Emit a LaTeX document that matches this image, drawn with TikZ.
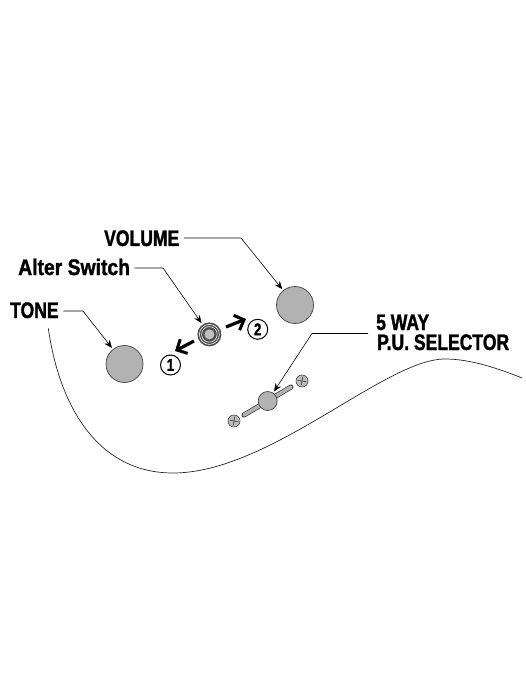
\documentclass[tikz,border=0pt]{standalone}
\usepackage{fontspec}
\setmainfont{Liberation Sans}
\newfontfamily\condfont[FakeStretch=0.78,FakeBold=1.4]{Liberation Sans Bold}
\newfontfamily\widerfont[FakeStretch=0.86,FakeBold=1.4]{Liberation Sans Bold}
\usetikzlibrary{arrows.meta}
\tikzset{
  lab/.style={font=\condfont\fontsize{22.5}{22.5}\selectfont,anchor=base west,inner sep=0pt,text=black},
  knob/.style={circle,draw=black!75,line width=0.7pt,fill=black!30,minimum size=#1,inner sep=0pt},
  leader/.style={draw=black,line width=0.6pt,-{Stealth[length=8pt,width=6.5pt]},shorten <=4.5pt,shorten >=1.5pt},
  num/.style={circle,draw=black,line width=1pt,fill=white,minimum size=20pt,inner sep=0pt,font=\condfont\fontsize{17}{17}\selectfont},
  bigarrow/.style={line width=3.2pt,-{Straight Barb[length=8pt,width=16pt,line width=3pt]}},
  screw/.style={circle,draw=black!75,line width=0.6pt,fill=black!25,minimum size=12pt,inner sep=0pt},
}
\begin{document}
\begin{tikzpicture}[x=1pt,y=-1pt]
\useasboundingbox (0,0) rectangle (525,700);
% body curve
\draw[line width=0.7pt,black!85] (48.3,328.3) .. controls (60,410) and (100,473) .. (173,473)
  .. controls (270,473) and (385,359) .. (445,359)
  .. controls (470,359) and (497,368) .. (522,378);
% labels
\node[lab] (vollab) at (104,246) {VOLUME};
\node[lab,font=\widerfont\fontsize{22.5}{22.5}\selectfont] (altlab) at (18,275) {Alter Switch};
\node[lab] (tonelab) at (10,318) {TONE};
\node[lab] (waylab) at (376,330) {5 WAY};
\node[lab] (sellab) at (377,350) {P.U. SELECTOR};
% knobs
\node[knob=37pt] (tone) at (124.5,364) {};
\node[knob=37pt] (vol) at (295,305) {};
% switch
\node[circle,fill=black!70,minimum size=24pt,inner sep=0pt] (sw) at (209.4,334.4) {};
\draw[white,line width=0.6pt] (sw.center) circle (10pt);
\draw[white,line width=0.6pt] (sw.center) circle (7.8pt);
\node[circle,draw=black!70,line width=0.6pt,fill=black!25,minimum size=11pt,inner sep=0pt] at (sw.center) {};
% selector
\node[screw] (s1) at (302,381) {};
\node[screw] (s2) at (234,421) {};
\foreach \n in {s1,s2}{
  \draw[black!80,line width=0.6pt] ([shift={(-10:4.5pt)}]\n.center) -- ([shift={(170:4.5pt)}]\n.center);
  \draw[black!80,line width=0.6pt] ([shift={(80:4.5pt)}]\n.center) -- ([shift={(260:4.5pt)}]\n.center);
}
\coordinate (barA) at (244,415);
\coordinate (barB) at (291,387);
\draw[black!80,line width=5pt,line cap=round] (barA) -- (barB);
\draw[black!30,line width=3.6pt,line cap=round] (barA) -- (barB);
\node[knob=19pt] (sel) at (267.7,401) {};
% leaders
\draw[leader] (vollab.east |- 0,238) -- (241,238) -- (vol);
\draw[leader] (altlab.east |- 0,268) -- (163,268) -- (sw);
\draw[leader] (tonelab.east |- 0,311) -- (83,311) -- (tone);
\draw[leader,shorten <=0pt] (368,333.5) coordinate (selstart) -- (312,333.5) -- (sel);
% numbered
\node[num] (n1) at (170.5,365) {1};
\node[num] (n2) at (257.7,329.3) {2};
\coordinate (a1s) at (194,341);
\coordinate (a1e) at (175,351);
\coordinate (a2s) at (226,327);
\coordinate (a2e) at (246,319);
\draw[bigarrow] (a1s) -- (a1e);
\draw[bigarrow] (a2s) -- (a2e);
\end{tikzpicture}
\end{document}
